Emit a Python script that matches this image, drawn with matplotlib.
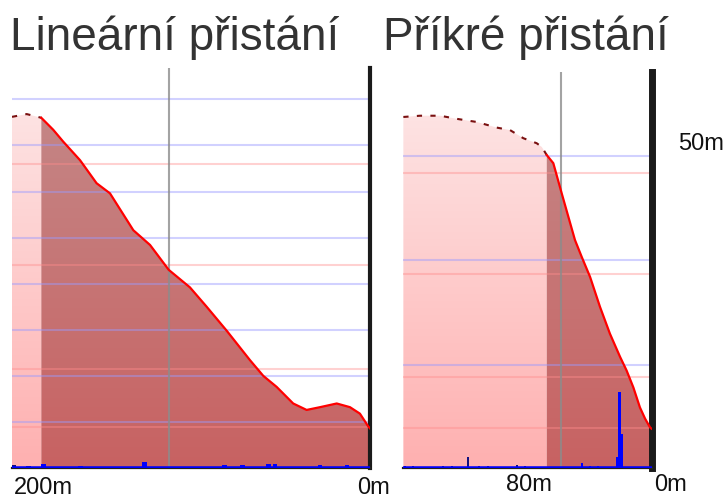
import numpy as np
import matplotlib
matplotlib.use("Agg")
import matplotlib.pyplot as plt
from matplotlib.colors import LinearSegmentedColormap
from matplotlib.transforms import Bbox

# ---- data ----
titles = ["Lineární přistání", "Příkré přistání"]

# linear approach: distance to threshold (m), height (m)
lin_dist = [218.7, 209.8, 201.0, 193.8, 187.7, 177.6, 167.6, 159.5, 145.4, 135.3,
            124.0, 111.2, 101.1, 89.0, 74.9, 66.9, 58.8, 48.8, 40.7, 32.6,
            22.5, 14.5, 8.5, 3.4, 2.4]
lin_alt = [38.1, 38.4, 38.0, 36.7, 35.4, 33.4, 30.9, 29.8, 25.8, 24.2,
           21.5, 19.6, 17.5, 14.9, 11.7, 10.0, 8.8, 7.0, 6.3, 6.6,
           7.0, 6.6, 5.9, 4.5, 4.3]
lin_split = 201.0
lin_marker = 124.0
lin_noise_dist = [218.0, 209.0, 199.4, 177.6, 138.4, 90.6, 79.2, 64.0, 59.8, 32.6, 16.3]
lin_noise = [0.35, 0.25, 0.4, 0.25, 0.7, 0.3, 0.3, 0.4, 0.4, 0.3, 0.3]
lin_blue_grid = [5, 10, 15, 20, 25, 30, 35, 40]
lin_pink_grid = [4.5, 10.7, 22.0, 33.0]
lin_ticks = [200, 0]
lin_ticklabels = ["200m", "0m"]

# steep approach
steep_dist = [150.8, 141.4, 130.1, 120.7, 109.5, 98.2, 90.7, 83.2, 75.7, 72.8,
              70.0, 66.3, 61.6, 58.8, 54.1, 50.3, 45.6, 40.0, 34.4, 28.7,
              25.0, 21.2, 17.5, 14.6, 11.8, 11.0]
steep_alt = [56.2, 56.4, 56.4, 55.9, 55.4, 54.5, 54.1, 52.8, 52.0, 51.4,
             50.1, 48.8, 44.0, 41.2, 36.5, 33.8, 30.6, 25.8, 21.5, 17.8,
             15.6, 12.9, 9.7, 7.9, 6.5, 6.3]
steep_split = 70.0
steep_marker = 62.0
steep_noise_dist = [149.9, 145.4, 128.5, 123.4, 114.4, 108.2, 103.1, 86.8, 82.3,
                    64.2, 50.1, 45.6, 41.1, 36.1, 30.2, 28.9, 27.6]
steep_noise = [0.3, 0.4, 0.3, 0.3, 1.8, 0.4, 0.3, 0.5, 0.3,
               0.2, 0.8, 0.4, 0.3, 0.2, 1.7, 12.1, 5.5]
steep_blue_grid = [16.5, 33.3, 50.0]
steep_pink_grid = [6.4, 14.5, 31.0, 47.3]
steep_ticks = [80, 0]
steep_ticklabels = ["80m", "0m"]
steep_ylabel = "50m"

W, H = 724, 498
fig = plt.figure(figsize=(W / 100, H / 100), dpi=100)
fnt = ["Liberation Sans", "DejaVu Sans"]

light_cmap = LinearSegmentedColormap.from_list("light", ["#ffb0b0", "#fde9e9"])
dark_cmap = LinearSegmentedColormap.from_list("dark", ["#c86262", "#c48a8a"])


def grad_fill(ax, x, y, cmap, xlim, ytop):
    poly = ax.fill_between(x, y, 0, facecolor="none", edgecolor="none")
    img = ax.imshow(np.linspace(0, 1, 256).reshape(-1, 1), cmap=cmap, aspect="auto",
                    origin="lower", extent=[xlim[0], xlim[1], 0, ytop], zorder=1,
                    interpolation="bilinear")
    img.set_clip_path(poly.get_paths()[0], transform=ax.transData)


def panel(rect, dist, alt, split, marker, ndist, nval, blue, pink, xlim, ytop, rspine, bw):
    ax = fig.add_axes([rect[0] / W, 1 - rect[3] / H, (rect[2] - rect[0]) / W,
                       (rect[3] - rect[1]) / H])
    dist = np.array(dist)
    alt = np.array(alt)
    far = dist >= split
    near = dist <= split
    grad_fill(ax, dist[far], alt[far], light_cmap, xlim, ytop)
    grad_fill(ax, dist[near], alt[near], dark_cmap, xlim, ytop)
    for g in blue:
        ax.axhline(g, color="#9a9aff", lw=1.5, alpha=0.45, zorder=2)
    for g in pink:
        ax.axhline(g, color="#ff8c8c", lw=1.5, alpha=0.4, zorder=2)
    ax.axvline(marker, color="#8c8c8c", lw=1.5, alpha=0.8, zorder=2)
    ax.plot(dist[far], alt[far], color="#7a1010", lw=1.5, ls=(0, (2.5, 4)), zorder=3)
    ax.plot(dist[near], alt[near], color="#ff0000", lw=1.6, zorder=3)
    ndist = np.array(ndist)
    nval = np.array(nval)
    cols = np.where(ndist > split, "#101080", "#0000ff")
    ax.bar(ndist, nval, width=bw, color=cols, zorder=4)
    ax.axhline(0.15, color="#0000ff", lw=1.8, zorder=4)
    ax.set_xlim(xlim)
    ax.set_ylim(0, ytop)
    ax.set_xticks([])
    ax.set_yticks([])
    for s in ["left", "top"]:
        ax.spines[s].set_visible(False)
    ax.spines["right"].set_linewidth(rspine)
    ax.spines["right"].set_color("#1a1a1a")
    ax.spines["bottom"].set_linewidth(1.6)
    ax.spines["bottom"].set_color("#222222")
    return ax


ax1 = panel((12, 68, 370, 468), lin_dist, lin_alt, lin_split, lin_marker,
            lin_noise_dist, lin_noise, lin_blue_grid, lin_pink_grid,
            (218.7, 2.4), 43.4, 3, 3.0)
ax2 = panel((403, 72, 652, 468), steep_dist, steep_alt, steep_split, steep_marker,
            steep_noise_dist, steep_noise, steep_blue_grid, steep_pink_grid,
            (151.0, 10.7), 63.4, 5, 1.6)

for t, lab in zip(lin_ticks, lin_ticklabels):
    ax1.text(t, -20 / 400, lab, transform=ax1.get_xaxis_transform(), ha="center",
             va="center", fontsize=17, family=fnt, color="#111111", clip_on=False)
for t, lab in zip(steep_ticks, steep_ticklabels):
    txt = ax2.text(t, -17 / 396, lab, transform=ax2.get_xaxis_transform(), ha="center",
                   va="center", fontsize=17, family=fnt, color="#111111")
    txt.set_clip_box(Bbox([[0, 0], [W, H - 476]]))
ax2.text(1.195, 51.8, steep_ylabel, transform=ax2.get_yaxis_transform(), ha="center",
         va="center", fontsize=17, family=fnt, color="#111111", clip_on=False)

fig.text(10 / W, 1 - 50 / H, titles[0], fontsize=33, family=fnt, color="#333333",
         va="baseline", ha="left")
fig.text(383 / W, 1 - 50 / H, titles[1], fontsize=33, family=fnt, color="#333333",
         va="baseline", ha="left")

fig.savefig("out.png", dpi=100)
